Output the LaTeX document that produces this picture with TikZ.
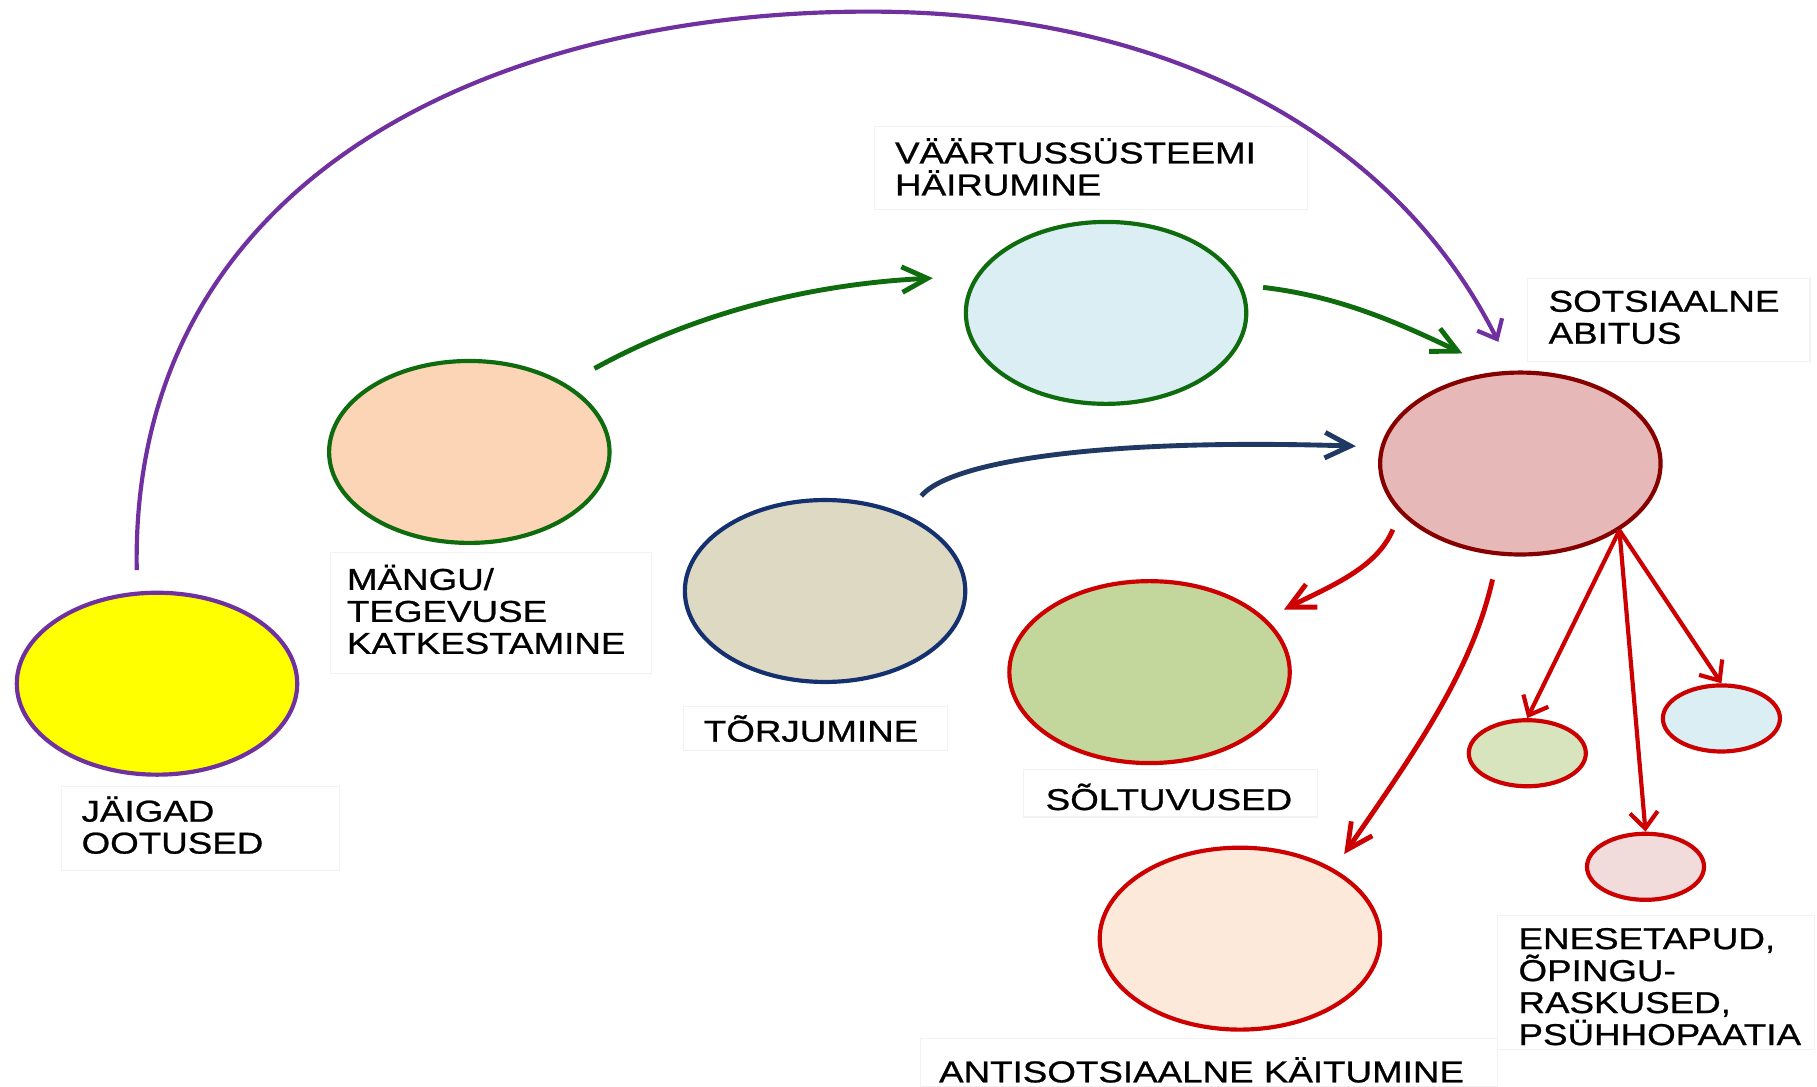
\documentclass[tikz,border=0pt]{standalone}
\usepackage{fontspec}
\setmainfont[FakeStretch=1.22]{Liberation Sans}
\newfontfamily\lblfont[FakeStretch=1.22,FakeBold=0.8]{Liberation Sans}
\usetikzlibrary{shapes.geometric,arrows.meta}
\definecolor{cpurple}{HTML}{7030A0}
\definecolor{cgreen}{HTML}{0E6B0E}
\definecolor{cnavy}{HTML}{1F3864}
\definecolor{cnavyb}{HTML}{14306E}
\definecolor{cdred}{HTML}{860000}
\definecolor{cred}{HTML}{CC0000}
\definecolor{fyellow}{HTML}{FFFF00}
\definecolor{fpeach}{HTML}{FBD5B5}
\definecolor{fblue}{HTML}{DBEEF4}
\definecolor{ftan}{HTML}{DDD9C3}
\definecolor{fpink}{HTML}{E6B9B8}
\definecolor{fgreen}{HTML}{C3D69B}
\definecolor{flpeach}{HTML}{FDE9D9}
\definecolor{fsgreen}{HTML}{D7E4BD}
\definecolor{fspink}{HTML}{F2DCDB}
\begin{document}
\begin{tikzpicture}[x=0.5pt,y=-0.5pt,
  blob/.style={ellipse, draw, line width=1.8pt, inner sep=0pt, minimum width=121pt, minimum height=78.5pt},
  smallblob/.style={ellipse, draw=cred, line width=1.8pt, inner sep=0pt, minimum width=50.5pt, minimum height=28.5pt},
  lbl/.style={align=left, inner sep=0pt, font=\lblfont\fontsize{13}{13.8}\selectfont, anchor=base west},
  lblbox/.style={draw=black!5, line width=0.5pt},
  conn/.style={line width=2.1pt, -{Straight Barb[length=11pt,width=11pt]}},
  wideconn/.style={line width=1.8pt, -{Straight Barb[length=7pt,width=12pt]}},
]
\useasboundingbox[fill=white] (0,0) rectangle (1568,938);

% faint label frames
\draw[lblbox] (53,679) rectangle (293,751);
\draw[lblbox] (285,477) rectangle (562,581);
\draw[lblbox] (755,109) rectangle (1128,181);
\draw[lblbox] (1318,240) rectangle (1562,312);
\draw[lblbox] (590,610) rectangle (818,648);
\draw[lblbox] (883,664) rectangle (1137,705);
\draw[lblbox] (1292,790) rectangle (1566,906);
\draw[lblbox] (794,896) rectangle (1292,938);

% ellipses
\node[blob, draw=cpurple, fill=fyellow] (jaigad) at (135.5,590) {};
\node[blob, draw=cgreen, fill=fpeach] (mangu) at (405,390) {};
\node[blob, draw=cgreen, fill=fblue] (vaartus) at (954.5,270) {};
\node[blob, draw=cnavyb, fill=ftan] (torj) at (712,510) {};
\node[blob, draw=cdred, fill=fpink] (abitus) at (1312,400) {};
\node[blob, draw=cred, fill=fgreen] (soltu) at (992,580) {};
\node[blob, draw=cred, fill=flpeach] (antis) at (1070,810) {};
\node[smallblob, fill=fsgreen] (sg) at (1318,650) {};
\node[smallblob, fill=fblue] (sb) at (1485.5,620) {};
\node[smallblob, fill=fspink] (sp) at (1420,748) {};

% labels (anchor = baseline of the last line)
\node[lbl] (tjaigad) at (70,736.6) {JÄIGAD\\OOTUSED};
\node[lbl] (tmangu) at (299,564.2) {MÄNGU/\\TEGEVUSE\\KATKESTAMINE};
\node[lbl] (tvaartus) at (772,168.6) {VÄÄRTUSSÜSTEEMI\\HÄIRUMINE};
\node[lbl] (tabitus) at (1336,296.6) {SOTSIAALNE\\ABITUS};
\node[lbl] (ttorj) at (607,640) {TÕRJUMINE};
\node[lbl] (tsoltu) at (902,699) {SÕLTUVUSED};
\node[lbl] (tenese) at (1310,901.8) {ENESETAPUD,\\ÕPINGU-\\RASKUSED,\\PSÜHHOPAATIA};
\node[lbl] (tantis) at (810,934) {ANTISOTSIAALNE KÄITUMINE};

% connector end points
\coordinate (p0) at (118,492);
\coordinate (p1) at (1293,295);
\coordinate (g0) at (513,318);
\coordinate (g1) at (805,240);
\coordinate (g2) at (1090,248);
\coordinate (g3) at (1262,305);
\coordinate (n0) at (795,428);
\coordinate (n1) at (1170,385);
\coordinate (r0) at (1202,457);
\coordinate (r1) at (1108,526);
\coordinate (r2) at (1288,500);
\coordinate (r3) at (1160,737);

% connectors
\draw[wideconn, draw=cpurple] (p0) .. controls (112,150) and (430,10) .. (750,10)
   .. controls (1000,10) and (1200,110) .. (p1);
\draw[conn, draw=cgreen] (g0) .. controls (600,270) and (700,245) .. (g1);
\draw[conn, draw=cgreen] (g2) .. controls (1150,255) and (1200,275) .. (g3);
\draw[conn, draw=cnavy] (n0) .. controls (820,398) and (950,378) .. (n1);
\draw[conn, draw=cred] (r0) .. controls (1188,490) and (1150,505) .. (r1);
\draw[conn, draw=cred] (r2) .. controls (1270,580) and (1220,650) .. (r3);
\draw[wideconn, draw=cred] (abitus.-34) -- (sg.north);
\draw[wideconn, draw=cred] (abitus.-34) -- (sb.north);
\draw[wideconn, draw=cred] (abitus.-34) -- (sp.north);
\end{tikzpicture}
\end{document}
